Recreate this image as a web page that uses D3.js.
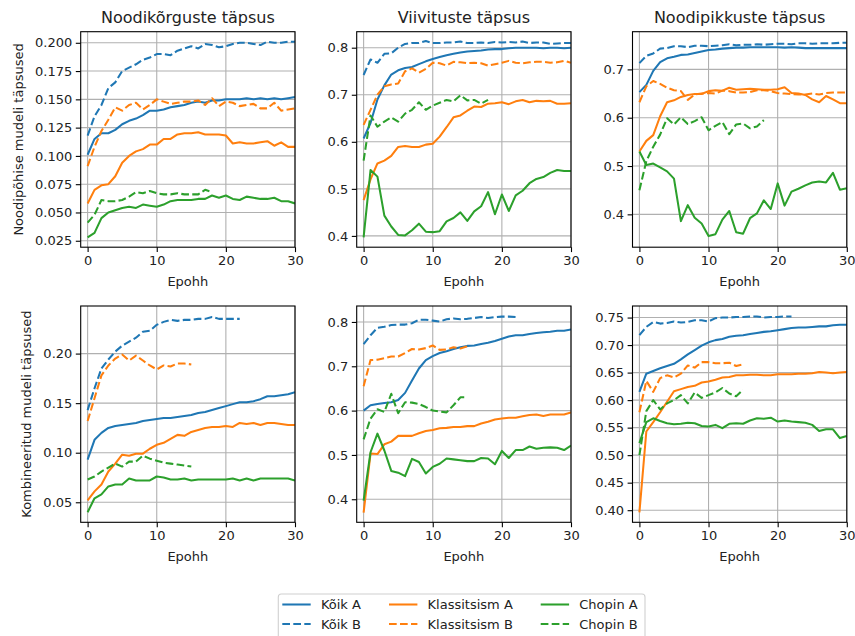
<!DOCTYPE html>
<html>
<head>
<meta charset="utf-8">
<script src="https://cdn.jsdelivr.net/npm/d3@7"></script>
<style>
  html, body { margin: 0; padding: 0; background: #fff; }
  svg { display: block; }
  text { font-family: "DejaVu Sans", sans-serif; fill: #222; }
</style>
</head>
<body>
<svg id="chart" width="855" height="636"></svg>
<script>
// ---------------- DATA ----------------
const titles = ["Noodikõrguste täpsus", "Viivituste täpsus", "Noodipikkuste täpsus"];
const rowLabels = ["Noodipõhise mudeli täpsused", "Kombineeritud mudeli täpsused"];
const seriesNames = ["Kõik A", "Kõik B", "Klassitsism A", "Klassitsism B", "Chopin A", "Chopin B"];
const xLabel = "Epohh";
const xTicks = [0, 10, 20, 30];

const yTicks_r0c0 = [0.025, 0.050, 0.075, 0.100, 0.125, 0.150, 0.175, 0.200];
const yTicks_r0c1 = [0.4, 0.5, 0.6, 0.7, 0.8];
const yTicks_r0c2 = [0.4, 0.5, 0.6, 0.7];
const yTicks_r1c0 = [0.05, 0.10, 0.15, 0.20];
const yTicks_r1c1 = [0.4, 0.5, 0.6, 0.7, 0.8];
const yTicks_r1c2 = [0.40, 0.45, 0.50, 0.55, 0.60, 0.65, 0.70, 0.75];

// Row 0, col 0 : Noodikõrguste täpsus (noodipõhine mudel)
const r0c0_koikA = [0.101,0.115,0.120,0.120,0.123,0.128,0.131,0.133,0.136,0.140,0.140,0.141,0.143,0.144,0.145,0.147,0.148,0.147,0.149,0.149,0.150,0.150,0.150,0.151,0.150,0.151,0.150,0.151,0.150,0.151,0.152];
const r0c0_koikB = [0.118,0.135,0.145,0.160,0.165,0.175,0.178,0.181,0.185,0.187,0.190,0.190,0.189,0.193,0.195,0.197,0.195,0.199,0.198,0.196,0.197,0.199,0.200,0.200,0.199,0.198,0.201,0.200,0.200,0.201,0.201];
const r0c0_klassA = [0.058,0.070,0.074,0.075,0.082,0.094,0.100,0.104,0.106,0.110,0.110,0.115,0.115,0.119,0.120,0.120,0.121,0.119,0.119,0.119,0.118,0.111,0.112,0.111,0.111,0.112,0.113,0.109,0.112,0.108,0.108];
const r0c0_klassB = [0.091,0.108,0.122,0.132,0.143,0.140,0.145,0.147,0.141,0.145,0.150,0.148,0.146,0.147,0.148,0.148,0.149,0.145,0.151,0.144,0.148,0.147,0.144,0.145,0.146,0.142,0.142,0.147,0.140,0.141,0.142];
const r0c0_chopinA = [0.028,0.032,0.045,0.050,0.052,0.054,0.055,0.054,0.057,0.056,0.055,0.057,0.060,0.061,0.061,0.061,0.062,0.062,0.065,0.063,0.065,0.062,0.061,0.064,0.063,0.062,0.062,0.063,0.060,0.060,0.058];
const r0c0_chopinB = [0.041,0.048,0.061,0.060,0.060,0.061,0.064,0.068,0.067,0.069,0.067,0.066,0.066,0.067,0.066,0.066,0.066,0.070,0.068];

// Row 0, col 1 : Viivituste täpsus
const r0c1_koikA = [0.607,0.640,0.690,0.720,0.743,0.752,0.757,0.759,0.765,0.771,0.776,0.780,0.784,0.787,0.790,0.792,0.793,0.794,0.796,0.797,0.797,0.799,0.800,0.800,0.800,0.800,0.799,0.800,0.800,0.799,0.800];
const r0c1_koikB = [0.742,0.775,0.768,0.787,0.788,0.800,0.808,0.810,0.810,0.814,0.810,0.810,0.811,0.811,0.813,0.810,0.810,0.811,0.810,0.812,0.811,0.812,0.811,0.813,0.810,0.811,0.811,0.808,0.809,0.810,0.810];
const r0c1_klassA = [0.476,0.520,0.554,0.560,0.570,0.589,0.591,0.589,0.589,0.594,0.596,0.611,0.631,0.652,0.656,0.666,0.675,0.674,0.681,0.682,0.684,0.680,0.686,0.689,0.684,0.687,0.686,0.687,0.681,0.681,0.682];
const r0c1_klassB = [0.636,0.668,0.700,0.718,0.722,0.724,0.750,0.756,0.747,0.755,0.768,0.767,0.762,0.770,0.769,0.767,0.768,0.767,0.762,0.765,0.768,0.772,0.768,0.767,0.769,0.770,0.770,0.768,0.769,0.772,0.768];
const r0c1_chopinA = [0.397,0.540,0.526,0.443,0.420,0.402,0.401,0.412,0.426,0.409,0.408,0.410,0.431,0.438,0.450,0.432,0.452,0.463,0.493,0.446,0.488,0.453,0.486,0.496,0.512,0.521,0.525,0.534,0.540,0.538,0.538];
const r0c1_chopinB = [0.560,0.656,0.632,0.643,0.652,0.643,0.660,0.668,0.684,0.668,0.677,0.683,0.689,0.686,0.699,0.688,0.689,0.681,0.689];

// Row 0, col 2 : Noodipikkuste täpsus
const r0c2_koikA = [0.653,0.668,0.697,0.715,0.723,0.726,0.730,0.731,0.734,0.737,0.740,0.741,0.743,0.744,0.745,0.745,0.746,0.746,0.746,0.746,0.746,0.745,0.746,0.745,0.744,0.744,0.744,0.744,0.744,0.744,0.744];
const r0c2_koikB = [0.713,0.728,0.733,0.743,0.744,0.748,0.748,0.746,0.749,0.749,0.748,0.749,0.750,0.752,0.750,0.751,0.751,0.752,0.751,0.752,0.753,0.753,0.752,0.754,0.754,0.753,0.754,0.754,0.754,0.755,0.755];
const r0c2_klassA = [0.530,0.552,0.564,0.603,0.632,0.636,0.643,0.647,0.649,0.649,0.655,0.657,0.656,0.662,0.658,0.659,0.660,0.659,0.658,0.658,0.659,0.663,0.651,0.650,0.647,0.638,0.632,0.645,0.638,0.630,0.630];
const r0c2_klassB = [0.632,0.665,0.676,0.670,0.662,0.657,0.655,0.637,0.648,0.650,0.651,0.650,0.656,0.655,0.652,0.652,0.653,0.657,0.657,0.655,0.651,0.650,0.649,0.648,0.648,0.650,0.648,0.651,0.652,0.652,0.652];
const r0c2_chopinA = [0.530,0.502,0.505,0.497,0.489,0.474,0.386,0.419,0.393,0.381,0.355,0.359,0.389,0.407,0.363,0.360,0.392,0.402,0.429,0.411,0.464,0.418,0.447,0.453,0.460,0.466,0.468,0.466,0.486,0.451,0.454];
const r0c2_chopinB = [0.450,0.510,0.540,0.565,0.599,0.586,0.601,0.587,0.593,0.601,0.574,0.583,0.591,0.566,0.586,0.588,0.578,0.582,0.595];

// Row 1, col 0 : Kombineeritud mudel, noodikõrgused
const r1c0_koikA = [0.093,0.113,0.120,0.125,0.127,0.128,0.129,0.130,0.132,0.133,0.134,0.135,0.135,0.136,0.137,0.138,0.140,0.141,0.143,0.145,0.147,0.149,0.151,0.151,0.152,0.154,0.157,0.157,0.158,0.159,0.161];
const r1c0_koikB = [0.143,0.165,0.185,0.194,0.202,0.208,0.212,0.216,0.222,0.223,0.229,0.232,0.234,0.233,0.234,0.234,0.235,0.235,0.237,0.235,0.235,0.235,0.235];
const r1c0_klassA = [0.052,0.061,0.068,0.081,0.089,0.098,0.097,0.099,0.099,0.104,0.108,0.110,0.114,0.118,0.117,0.121,0.123,0.125,0.126,0.126,0.127,0.126,0.130,0.129,0.130,0.128,0.130,0.130,0.129,0.128,0.128];
const r1c0_klassB = [0.132,0.155,0.178,0.188,0.195,0.199,0.193,0.198,0.193,0.188,0.184,0.188,0.187,0.190,0.190,0.189];
const r1c0_chopinA = [0.040,0.054,0.058,0.066,0.068,0.068,0.074,0.072,0.072,0.072,0.076,0.075,0.073,0.073,0.074,0.072,0.073,0.073,0.073,0.073,0.073,0.074,0.072,0.074,0.072,0.074,0.074,0.074,0.074,0.074,0.072];
const r1c0_chopinB = [0.073,0.076,0.081,0.085,0.089,0.086,0.091,0.091,0.097,0.094,0.092,0.090,0.089,0.088,0.087,0.086];

// Row 1, col 1 : Kombineeritud mudel, viivitused
const r1c1_koikA = [0.600,0.612,0.615,0.617,0.619,0.624,0.640,0.668,0.695,0.714,0.723,0.730,0.734,0.739,0.743,0.746,0.747,0.750,0.753,0.757,0.762,0.767,0.770,0.770,0.773,0.775,0.777,0.778,0.780,0.780,0.783];
const r1c1_koikB = [0.750,0.770,0.787,0.789,0.793,0.794,0.794,0.797,0.805,0.805,0.803,0.801,0.806,0.808,0.806,0.807,0.809,0.811,0.809,0.811,0.812,0.812,0.811];
const r1c1_klassA = [0.370,0.503,0.502,0.524,0.530,0.543,0.543,0.543,0.549,0.554,0.556,0.560,0.561,0.563,0.563,0.565,0.565,0.571,0.575,0.580,0.582,0.584,0.584,0.587,0.590,0.591,0.588,0.591,0.591,0.591,0.596];
const r1c1_klassB = [0.655,0.714,0.715,0.718,0.722,0.722,0.730,0.739,0.738,0.741,0.747,0.737,0.738,0.743,0.740,0.745];
const r1c1_chopinA = [0.397,0.506,0.548,0.510,0.464,0.460,0.452,0.491,0.484,0.458,0.473,0.480,0.492,0.490,0.488,0.486,0.486,0.493,0.492,0.479,0.509,0.493,0.511,0.511,0.519,0.514,0.516,0.517,0.516,0.511,0.521];
const r1c1_chopinB = [0.535,0.582,0.603,0.597,0.638,0.594,0.619,0.618,0.615,0.608,0.600,0.598,0.596,0.612,0.630,0.630];

// Row 1, col 2 : Kombineeritud mudel, noodipikkused
const r1c2_koikA = [0.615,0.648,0.653,0.658,0.662,0.666,0.674,0.683,0.691,0.699,0.705,0.709,0.711,0.715,0.717,0.718,0.720,0.722,0.724,0.725,0.727,0.729,0.731,0.732,0.732,0.733,0.734,0.734,0.736,0.737,0.737];
const r1c2_koikB = [0.718,0.733,0.742,0.739,0.740,0.743,0.741,0.742,0.745,0.745,0.743,0.749,0.750,0.750,0.751,0.751,0.752,0.752,0.750,0.751,0.751,0.752,0.752];
const r1c2_klassA = [0.396,0.543,0.560,0.578,0.597,0.616,0.620,0.624,0.626,0.632,0.634,0.637,0.641,0.642,0.645,0.645,0.646,0.646,0.645,0.645,0.647,0.647,0.647,0.648,0.648,0.649,0.651,0.650,0.649,0.650,0.651];
const r1c2_klassB = [0.578,0.635,0.615,0.640,0.645,0.641,0.648,0.663,0.659,0.669,0.669,0.667,0.667,0.668,0.662,0.665];
const r1c2_chopinA = [0.522,0.560,0.567,0.562,0.558,0.556,0.557,0.559,0.558,0.553,0.552,0.555,0.549,0.557,0.558,0.557,0.563,0.567,0.566,0.568,0.561,0.563,0.561,0.560,0.559,0.555,0.544,0.547,0.547,0.531,0.535];
const r1c2_chopinB = [0.500,0.580,0.600,0.583,0.594,0.600,0.609,0.594,0.614,0.604,0.609,0.614,0.622,0.612,0.607,0.619];

// ---------------- LAYOUT / STYLE ----------------
const colors = ["#1f77b4", "#1f77b4", "#ff7f0e", "#ff7f0e", "#2ca02c", "#2ca02c"];
const dashed = [false, true, false, true, false, true];

const panels = [
  { r: 0, c: 0, ticks: yTicks_r0c0, fmt: ".3f", dom: [0.0193, 0.2098], s: [r0c0_koikA, r0c0_koikB, r0c0_klassA, r0c0_klassB, r0c0_chopinA, r0c0_chopinB] },
  { r: 0, c: 1, ticks: yTicks_r0c1, fmt: ".1f", dom: [0.376, 0.834], s: [r0c1_koikA, r0c1_koikB, r0c1_klassA, r0c1_klassB, r0c1_chopinA, r0c1_chopinB] },
  { r: 0, c: 2, ticks: yTicks_r0c2, fmt: ".1f", dom: [0.332, 0.778], s: [r0c2_koikA, r0c2_koikB, r0c2_klassA, r0c2_klassB, r0c2_chopinA, r0c2_chopinB] },
  { r: 1, c: 0, ticks: yTicks_r1c0, fmt: ".2f", dom: [0.0298, 0.248], s: [r1c0_koikA, r1c0_koikB, r1c0_klassA, r1c0_klassB, r1c0_chopinA, r1c0_chopinB] },
  { r: 1, c: 1, ticks: yTicks_r1c1, fmt: ".1f", dom: [0.348, 0.836], s: [r1c1_koikA, r1c1_koikB, r1c1_klassA, r1c1_klassB, r1c1_chopinA, r1c1_chopinB] },
  { r: 1, c: 2, ticks: yTicks_r1c2, fmt: ".2f", dom: [0.378, 0.771], s: [r1c2_koikA, r1c2_koikB, r1c2_klassA, r1c2_klassB, r1c2_chopinA, r1c2_chopinB] }
];

const colLeft = [80.7, 356.7, 632.5];
const axW = 214.3;
const rowTop = [31.7, 306];
const axH = [215.5, 216.3];

const svg = d3.select("#chart");

panels.forEach(p => {
  const x0 = colLeft[p.c], y0 = rowTop[p.r], h = axH[p.r];
  const x = d3.scaleLinear().domain([-1, 30]).range([x0, x0 + axW]);
  const y = d3.scaleLinear().domain(p.dom).range([y0 + h, y0]);
  const g = svg.append("g");

  // grid
  g.append("g").selectAll("line.gx").data(xTicks).join("line")
    .attr("x1", d => x(d)).attr("x2", d => x(d)).attr("y1", y0).attr("y2", y0 + h)
    .attr("stroke", "#b0b0b0").attr("stroke-width", 1.1);
  g.append("g").selectAll("line.gy").data(p.ticks).join("line")
    .attr("x1", x0).attr("x2", x0 + axW).attr("y1", d => y(d)).attr("y2", d => y(d))
    .attr("stroke", "#b0b0b0").attr("stroke-width", 1.1);

  // lines
  const clipId = "clip" + p.r + p.c;
  svg.append("clipPath").attr("id", clipId).append("rect")
    .attr("x", x0).attr("y", y0).attr("width", axW).attr("height", h);
  const lg = g.append("g").attr("clip-path", `url(#${clipId})`);
  const line = d3.line().x((d, i) => x(i)).y(d => y(d));
  p.s.forEach((vals, k) => {
    lg.append("path").datum(vals).attr("d", line)
      .attr("fill", "none").attr("stroke", colors[k]).attr("stroke-width", 2.05)
      .attr("stroke-linecap", "butt")
      .attr("stroke-linejoin", "round")
      .attr("stroke-dasharray", dashed[k] ? "7.7,3.3" : null);
  });

  // axes
  const xAxis = d3.axisBottom(x).tickValues(xTicks).tickSize(4.9).tickPadding(3.5).tickFormat(d3.format("d"));
  const yAxis = d3.axisLeft(y).tickValues(p.ticks).tickSize(4.9).tickPadding(3.5).tickFormat(d3.format(p.fmt));
  const gx = g.append("g").attr("transform", `translate(0,${y0 + h})`).call(xAxis);
  const gy = g.append("g").attr("transform", `translate(${x0},0)`).call(yAxis);
  [gx, gy].forEach(a => {
    a.select(".domain").remove();
    a.selectAll(".tick line").attr("stroke", "#000").attr("stroke-width", 1.1);
    a.selectAll(".tick text").attr("font-family", "DejaVu Sans").attr("font-size", 13).attr("fill", "#222");
  });

  // frame
  g.append("rect").attr("x", x0).attr("y", y0).attr("width", axW).attr("height", h)
    .attr("fill", "none").attr("stroke", "#000").attr("stroke-width", 1.1);

  // x label
  g.append("text").attr("x", x0 + axW / 2).attr("y", y0 + h + 38.5)
    .attr("text-anchor", "middle").attr("font-size", 13).text(xLabel);

  // title
  if (p.r === 0) {
    g.append("text").attr("x", x0 + axW / 2).attr("y", y0 - 8.4)
      .attr("text-anchor", "middle").attr("font-size", 16).text(titles[p.c]);
  }
  // y label
  if (p.c === 0) {
    const lx = p.r === 0 ? 22.5 : 31;
    g.append("text").attr("transform", `translate(${lx},${y0 + h / 2}) rotate(-90)`)
      .attr("text-anchor", "middle").attr("font-size", 13).text(rowLabels[p.r]);
  }
});

// legend
const lgX = 278.3, lgY = 594;
const leg = svg.append("g");
leg.append("rect").attr("x", lgX).attr("y", lgY).attr("width", 366.7).attr("height", 50)
  .attr("rx", 3).attr("fill", "#fff").attr("stroke", "#d0d0d0").attr("stroke-width", 1.1);
const colX = [282.3, 389, 540.7];
const rowY = [604.5, 624];
seriesNames.forEach((name, k) => {
  const col = Math.floor(k / 2), row = k % 2;
  leg.append("line").attr("x1", colX[col]).attr("x2", colX[col] + 28.4)
    .attr("y1", rowY[row]).attr("y2", rowY[row])
    .attr("stroke", colors[k]).attr("stroke-width", 2.05)
    .attr("stroke-dasharray", dashed[k] ? "7.7,3.3" : null);
  leg.append("text").attr("x", colX[col] + 38.6).attr("y", rowY[row] + 4.7)
    .attr("font-size", 13).text(name);
});
</script>
</body>
</html>
